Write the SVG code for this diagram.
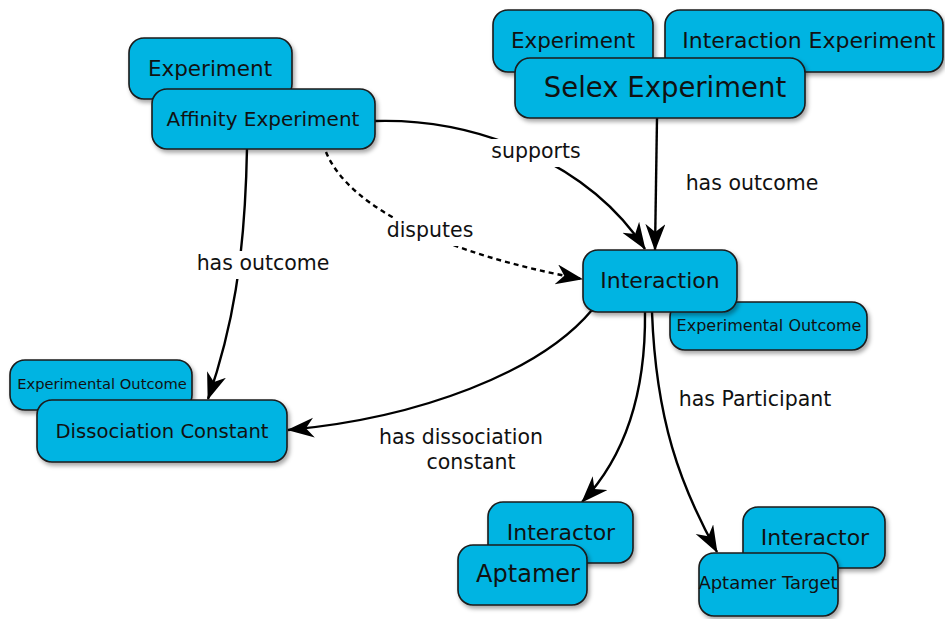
<svg xmlns="http://www.w3.org/2000/svg" width="945" height="619" viewBox="0 0 945 619">
<defs>
<filter id="sh" x="-10%" y="-10%" width="130%" height="140%">
<feDropShadow dx="2" dy="3" stdDeviation="2" flood-color="#000" flood-opacity="0.35"/>
</filter>
<marker id="ah" markerUnits="userSpaceOnUse" markerWidth="30" markerHeight="24" refX="26" refY="10" orient="auto">
<path d="M0,0 L27,10 L0,20 L8,10 Z" fill="#000"/>
</marker>
<style>
.box{fill:#05b4e2;stroke:#1a1a1a;stroke-width:1.6;filter:url(#sh)}
.t{font-family:"DejaVu Sans",Verdana,sans-serif;fill:#111;text-anchor:middle}
.c{fill:none;stroke:#000;stroke-width:2.4}
.d{stroke-dasharray:5,4}
.lbl{font-family:"DejaVu Sans",Verdana,sans-serif;font-size:20.5px;fill:#111;text-anchor:middle}
.bg{fill:#fff}
</style>
</defs>
<rect width="945" height="619" fill="#fff"/>

<g id="connectors">
<path class="c" d="M375,121 C480,118 590,165 645,249" marker-end="url(#ah)"/>
<path class="c" d="M657,118 L655,250" marker-end="url(#ah)"/>
<path class="c d" d="M326,152 C350,210 450,255 582,279" marker-end="url(#ah)"/>
<path class="c" d="M247,148 C245,260 232,330 208,399" marker-end="url(#ah)"/>
<path class="c" d="M592,310 C540,372 420,418 288,430" marker-end="url(#ah)"/>
<path class="c" d="M645,312 C646,400 622,460 582,502" marker-end="url(#ah)"/>
<path class="c" d="M652,312 C656,420 680,485 717,552" marker-end="url(#ah)"/>
<rect class="bg" x="486" y="139" width="100" height="28"/>
<text class="lbl" x="536" y="158">supports</text>
<rect class="bg" x="382" y="218" width="96" height="28"/>
<text class="lbl" x="430" y="237">disputes</text>
<rect class="bg" x="193" y="251" width="142" height="28"/>
<text class="lbl" x="263" y="270">has outcome</text>
<text class="lbl" x="752" y="190">has outcome</text>
<text class="lbl" x="755" y="406">has Participant</text>
<text class="lbl" x="461" y="444">has dissociation</text>
<text class="lbl" x="471" y="469">constant</text>
</g>

<g id="experiment1"><rect class="box" x="129" y="38" width="163" height="61" rx="15"/><text class="t" x="210" y="76" font-size="21.5">Experiment</text></g>
<g id="affinity-experiment"><rect class="box" x="152" y="89" width="223" height="60" rx="15"/><text class="t" x="263" y="126" font-size="20">Affinity Experiment</text></g>

<g id="experiment2"><rect class="box" x="493" y="10" width="160" height="62" rx="15"/><text class="t" x="573" y="48" font-size="21.5">Experiment</text></g>
<g id="interaction-experiment"><rect class="box" x="665" y="10" width="278" height="62" rx="15"/><text class="t" x="809" y="48" font-size="22">Interaction Experiment</text></g>
<g id="selex-experiment"><rect class="box" x="515" y="58" width="290" height="60" rx="15"/><text class="t" x="665" y="97" font-size="27.5">Selex Experiment</text></g>

<g id="experimental-outcome1"><rect class="box" x="670" y="302" width="197" height="48" rx="15"/><text class="t" x="769" y="331" font-size="16">Experimental Outcome</text></g>
<g id="interaction"><rect class="box" x="583" y="250" width="154" height="62" rx="15"/><text class="t" x="660" y="288" font-size="22">Interaction</text></g>

<g id="experimental-outcome2"><rect class="box" x="10" y="360" width="182" height="50" rx="15"/><text class="t" x="102" y="389" font-size="14.7">Experimental Outcome</text></g>
<g id="dissociation-constant"><rect class="box" x="37" y="400" width="250" height="62" rx="15"/><text class="t" x="162" y="438" font-size="19.6">Dissociation Constant</text></g>

<g id="interactor1"><rect class="box" x="488" y="502" width="145" height="61" rx="15"/><text class="t" x="561" y="540" font-size="22">Interactor</text></g>
<g id="aptamer"><rect class="box" x="458" y="545" width="129" height="60" rx="15"/><text class="t" x="528" y="582" font-size="24">Aptamer</text></g>

<g id="interactor2"><rect class="box" x="743" y="507" width="142" height="61" rx="15"/><text class="t" x="815" y="545" font-size="22">Interactor</text></g>
<g id="aptamer-target"><rect class="box" x="699" y="553" width="139" height="63" rx="15"/><text class="t" x="768" y="589" font-size="18">Aptamer Target</text></g>
</svg>
